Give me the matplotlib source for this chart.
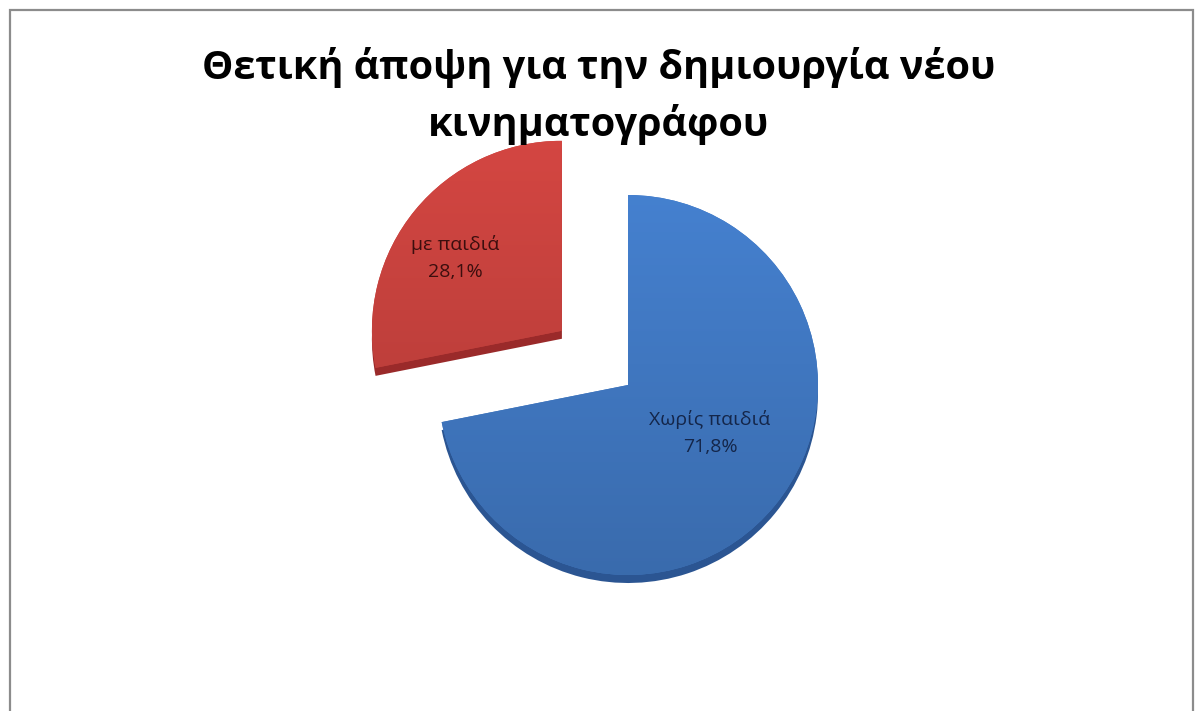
import numpy as np
import matplotlib.pyplot as plt
from matplotlib.colors import to_rgb

# Survey result: positive opinion on a new cinema
categories = ["Χωρίς παιδιά", "με παιδιά"]
shares = [71.8, 28.1]
title = "Θετική άποψη για την δημιουργία νέου\nκινηματογράφου"

face_colors = ["#4077c0", "#c4413d"]
side_colors = ["#2b5592", "#9a2a2a"]
label_colors = ["#14264a", "#3c0e0e"]

W, H = 1197, 711
fig = plt.figure(figsize=(W / 100, H / 100), dpi=100)
ax = fig.add_axes([0, 0, 1, 1])
ax.set_xlim(0, W)
ax.set_ylim(0, H)
ax.set_aspect("equal")
ax.axis("off")

# thin grey frame
fig.patches.append(plt.Rectangle((10 / W, -0.01), (1193 - 10) / W, (H - 10) / H + 0.01,
                                 transform=fig.transFigure, fill=False,
                                 edgecolor="#8c8c8c", linewidth=1.6))

center = (628, H - 385)
radius = 190
depth = 8
# pie() takes the explode offset in data units, so scale by the radius
explode = [0, 0.45 * radius]

# darker copy underneath gives the slab its thickness
ax.pie(shares, colors=side_colors, startangle=90, counterclock=False,
       explode=explode, radius=radius, center=(center[0], center[1] - depth),
       wedgeprops=dict(linewidth=0))
wedges, _ = ax.pie(shares, colors=face_colors, startangle=90, counterclock=False,
                   explode=explode, radius=radius, center=center,
                   wedgeprops=dict(linewidth=0))

# soft vertical shading on each top face
for w, c in zip(wedges, face_colors):
    base = np.array(to_rgb(c))
    ramp = np.linspace(1.08, 0.9, 256)[:, None, None]
    img = np.clip(base[None, None, :] * ramp, 0, 1)
    img = np.repeat(img, 2, axis=1)
    cx, cy = w.center
    im = ax.imshow(img, extent=(cx - radius, cx + radius, cy - radius, cy + radius),
                   origin="upper", aspect="auto", zorder=w.get_zorder() + 0.1)
    im.set_clip_path(w)

ax.set_xlim(0, W)
ax.set_ylim(0, H)

# category + value labels placed along each wedge's bisector
label_dist = [0.5, 0.68]
label_shift = [9, 5]
for w, name, v, d, s, lc in zip(wedges, categories, shares, label_dist, label_shift, label_colors):
    mid = np.deg2rad((w.theta1 + w.theta2) / 2 + s)
    cx, cy = w.center
    x = cx + d * radius * np.cos(mid)
    y = cy + d * radius * np.sin(mid)
    ax.text(x, y, f"{name}\n{v:.1f}%".replace(".", ","), ha="center", va="center",
            fontsize=14, color=lc, family="Open Sans", linespacing=1.65, zorder=10)

fig.text(0.5, 1 - 96 / H, title, ha="center", va="center", fontsize=28.5,
         fontweight="bold", family="Open Sans", linespacing=1.5)

fig.savefig("out.png", dpi=100)
